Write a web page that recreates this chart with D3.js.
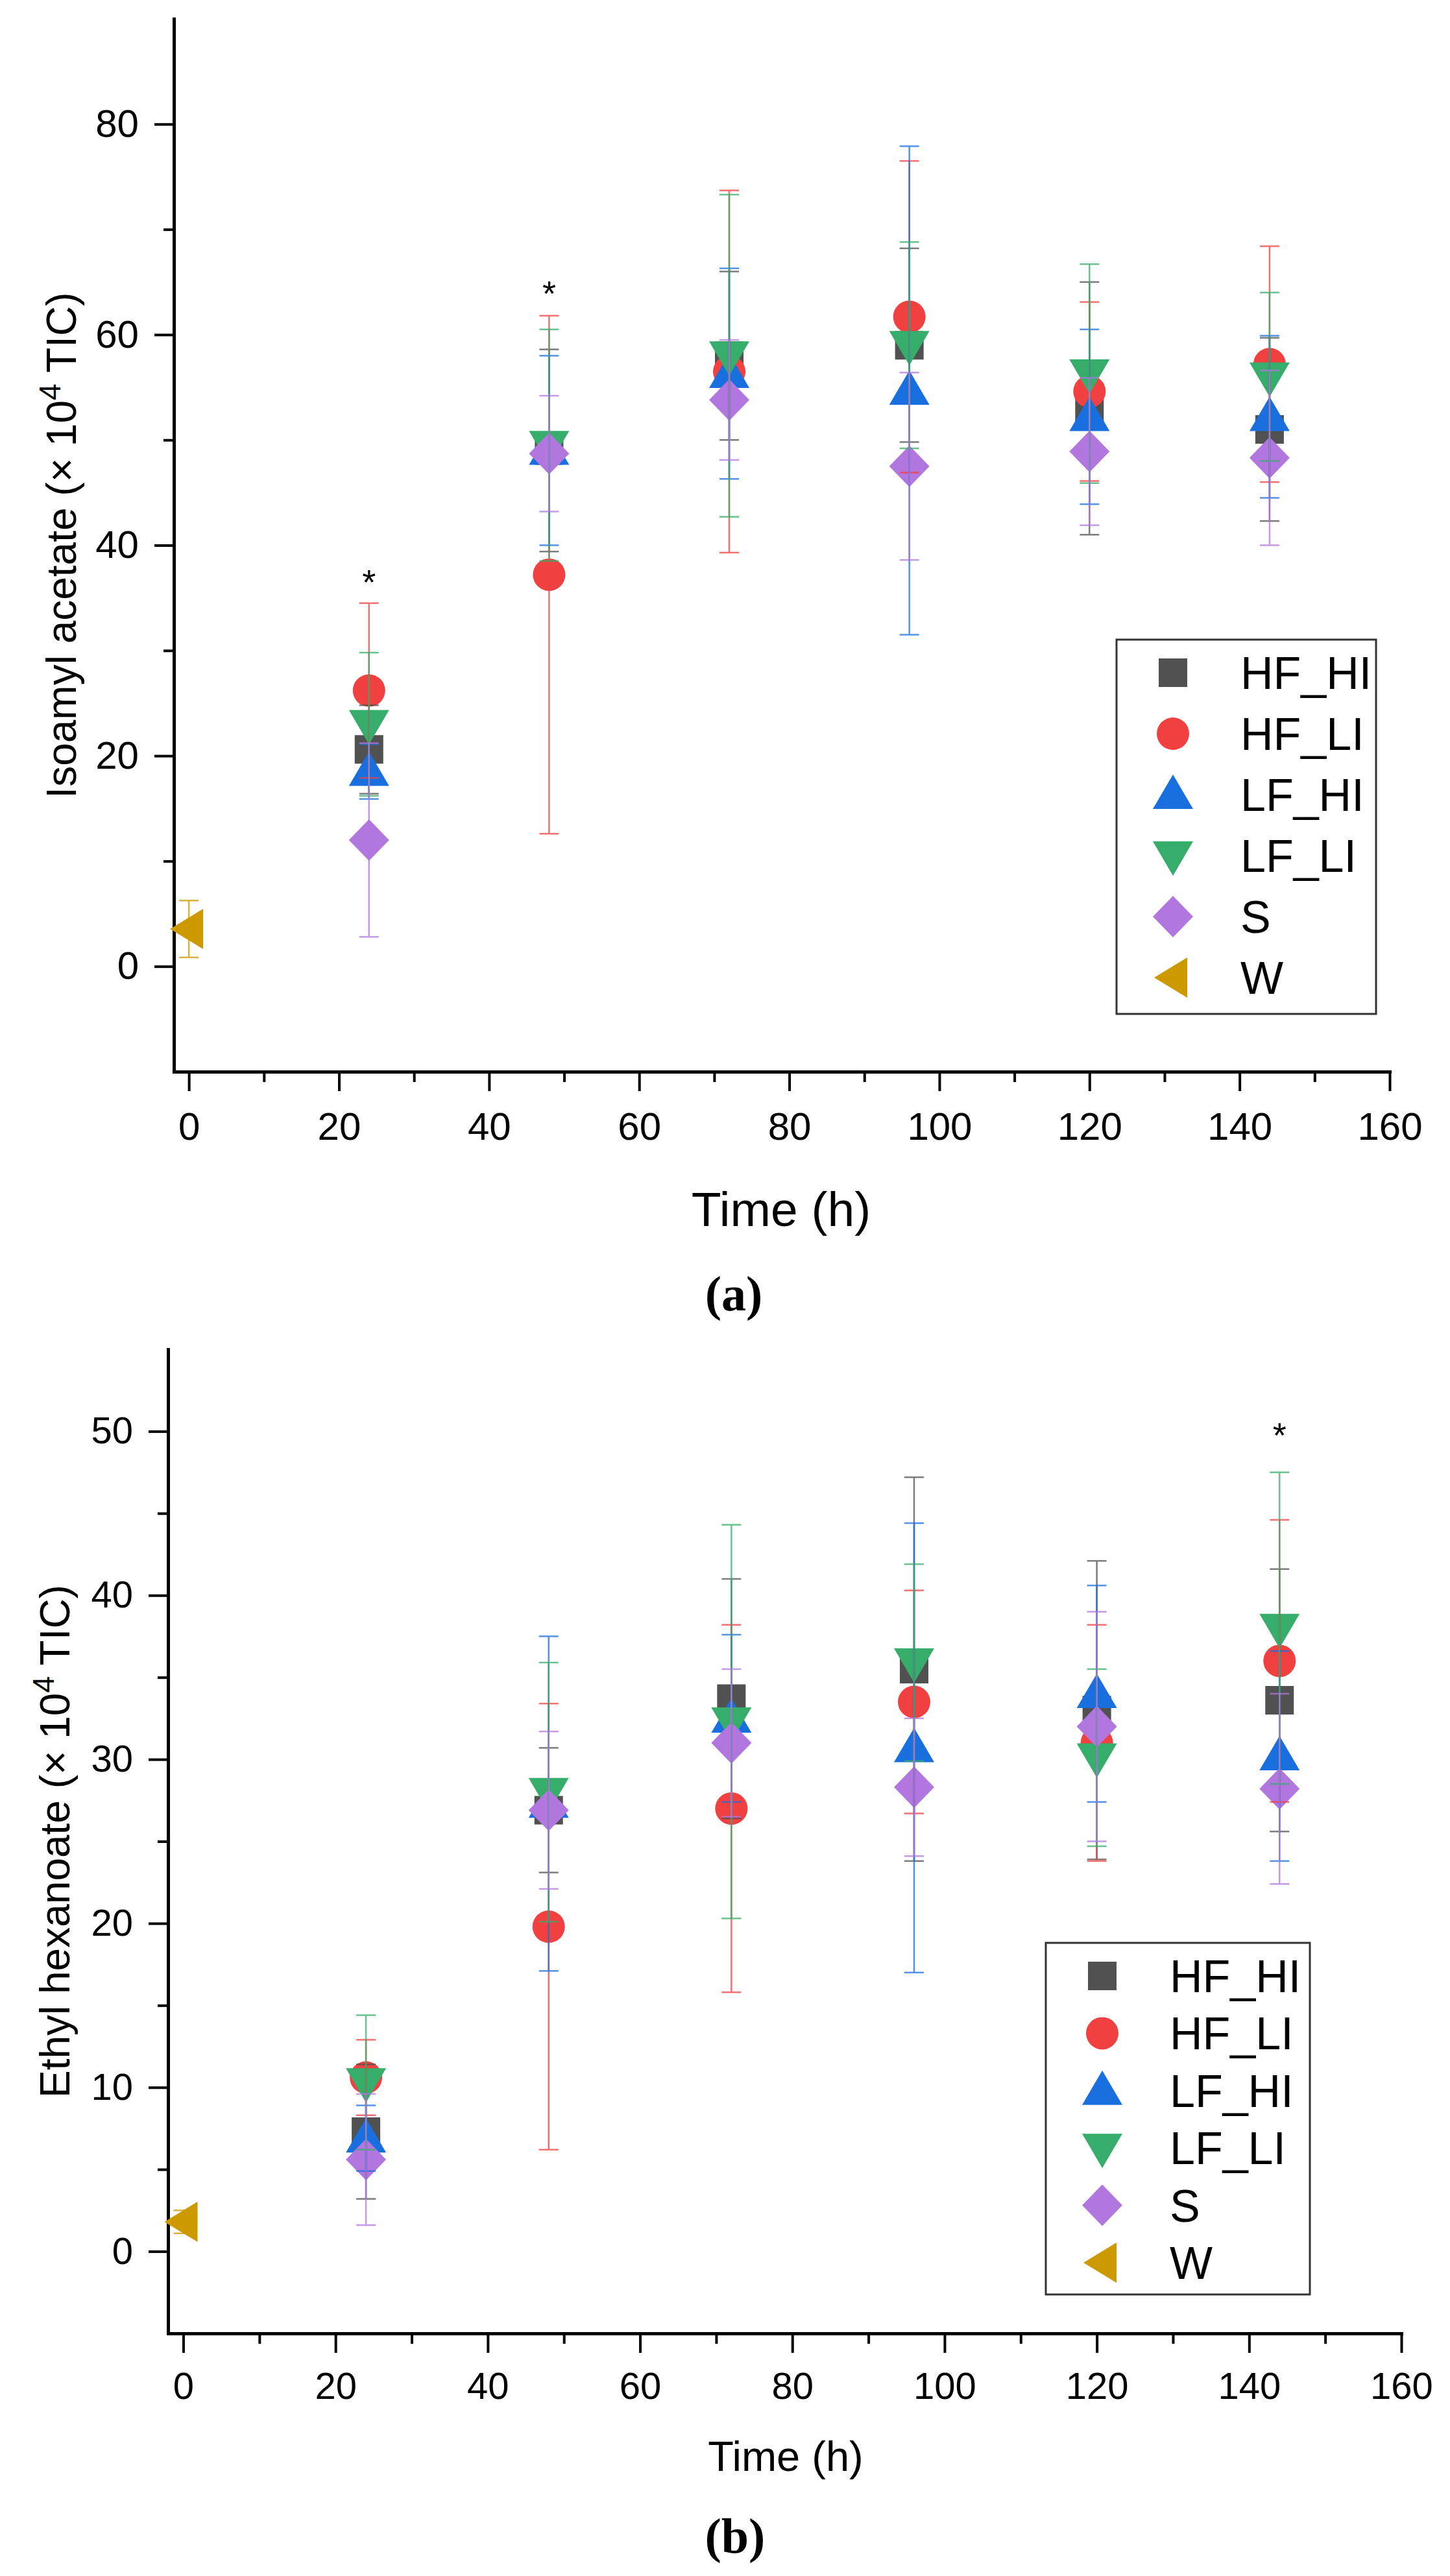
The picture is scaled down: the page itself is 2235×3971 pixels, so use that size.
<!DOCTYPE html>
<html>
  <head>
    <meta charset="utf-8">
    <title>Isoamyl acetate / Ethyl hexanoate</title>
    <script src="https://d3js.org/d3.v7.min.js"></script>
    <style>
      body { margin: 0; background: #fff; }
      text { font-family: 'Liberation Sans', Arial, sans-serif; }
      text.tag { font-family: 'Liberation Serif', 'DejaVu Serif', serif; font-weight: bold; }
    </style>
  </head>
  <body>
    <svg></svg>
    <script>
      // ---- data ----
      const seriesNames = ['HF_HI', 'HF_LI', 'LF_HI', 'LF_LI', 'S', 'W'];
      const seriesColors = ['#515151', '#F14040', '#1A6FDF', '#37AD6B', '#B177DE', '#CC9900'];
      const seriesShapes = ['square', 'circle', 'up', 'down', 'diamond', 'left'];

      const treatTimes = [24, 48, 72, 96, 120, 144];
      const waterTimes = [0];

      const xMajor = [0, 20, 40, 60, 80, 100, 120, 140, 160];
      const xMinor = [10, 30, 50, 70, 90, 110, 130, 150];

      // (a) Isoamyl acetate, mean and SD
      const isoHFHI = [20.6, 49.0, 58.0, 59.0, 53.0, 51.0];
      const isoHFHIsd = [4.2, 9.6, 8.0, 9.2, 12.0, 8.7];
      const isoHFLI = [26.2, 37.2, 56.5, 61.7, 54.6, 57.2];
      const isoHFLIsd = [8.3, 24.6, 17.2, 14.8, 8.5, 11.2];
      const isoLFHI = [18.5, 49.0, 56.3, 54.7, 52.2, 52.2];
      const isoLFHIsd = [2.6, 9.0, 10.0, 23.2, 8.3, 7.7];
      const isoLFLI = [23.0, 49.5, 58.0, 59.0, 56.3, 56.0];
      const isoLFLIsd = [6.8, 11.0, 15.3, 9.8, 10.4, 8.0];
      const isoS = [12.0, 48.7, 53.8, 47.5, 48.9, 48.3];
      const isoSsd = [9.2, 5.5, 5.7, 8.9, 7.0, 8.3];
      const isoW = [3.55];
      const isoWsd = [2.7];
      const isoSigTimes = [24, 48];
      const isoSigLevels = [37.2, 64.6];
      const isoYMajor = [0, 20, 40, 60, 80];
      const isoYMinor = [10, 30, 50, 70];

      // (b) Ethyl hexanoate, mean and SD
      const hexHFHI = [7.3, 26.9, 33.7, 35.5, 33.0, 33.6];
      const hexHFHIsd = [4.1, 3.8, 7.3, 11.7, 9.1, 8.0];
      const hexHFLI = [10.6, 19.8, 27.0, 33.5, 31.0, 36.0];
      const hexHFLIsd = [2.3, 13.6, 11.2, 6.8, 7.2, 8.6];
      const hexLFHI = [6.9, 27.3, 32.5, 30.7, 34.0, 30.2];
      const hexLFHIsd = [2.0, 10.2, 5.1, 13.7, 6.6, 6.4];
      const hexLFLI = [10.3, 28.0, 32.3, 35.9, 30.1, 38.0];
      const hexLFLIsd = [4.1, 7.9, 12.0, 6.0, 5.4, 9.5];
      const hexS = [5.6, 26.9, 31.0, 28.3, 32.0, 28.2];
      const hexSsd = [4.0, 4.8, 4.5, 4.2, 7.0, 5.8];
      const hexW = [1.8];
      const hexWsd = [0.7];
      const hexSigTimes = [144];
      const hexSigLevels = [50.2];
      const hexYMajor = [0, 10, 20, 30, 40, 50];
      const hexYMinor = [5, 15, 25, 35, 45];

      const svg = d3.select('svg')
        .attr('width', 2235)
        .attr('height', 3971);

      svg.append('rect')
        .attr('width', 2235)
        .attr('height', 3971)
        .attr('fill', '#fff');

      // marker shapes as custom d3 symbol types
      const symbolTypes = {
        square: { draw(c) { c.rect(-22, -22, 44, 44); } },
        circle: { draw(c) { c.moveTo(25, 0); c.arc(0, 0, 25, 0, 2 * Math.PI); } },
        up: { draw(c) { c.moveTo(0, -31); c.lineTo(31, 22); c.lineTo(-31, 22); c.closePath(); } },
        down: { draw(c) { c.moveTo(0, 31); c.lineTo(31, -22); c.lineTo(-31, -22); c.closePath(); } },
        diamond: { draw(c) { c.moveTo(0, -32); c.lineTo(31, 0); c.lineTo(0, 32); c.lineTo(-31, 0); c.closePath(); } },
        left: { draw(c) { c.moveTo(-29, 0); c.lineTo(22, -31); c.lineTo(22, 31); c.closePath(); } }
      };
      const symbolPath = shape => d3.symbol(symbolTypes[shape], 1)();

      const drawPanel = p => {
        const x = d3.scaleLinear().domain([-2, 160]).range(p.xRange);
        const y = d3.scaleLinear().domain(p.yDomain).range(p.yRange);
        const g = svg.append('g');

        // build rows: one per series per time point
        const rows = [];
        p.means.forEach((vals, i) => {
          const times = i === 5 ? waterTimes : treatTimes;
          vals.forEach((v, j) => rows.push({ s: i, t: times[j], m: v, sd: p.sds[i][j] }));
        });

        // axes
        const xAxis = d3.axisBottom(x).tickValues(xMajor).tickSize(30).tickSizeOuter(0)
          .tickPadding(p.xPad).tickFormat(d3.format('d'));
        const xMinorAxis = d3.axisBottom(x).tickValues(xMinor).tickSize(16).tickSizeOuter(0).tickFormat('');
        const yAxis = d3.axisLeft(y).tickValues(p.yMajor).tickSize(30).tickSizeOuter(0)
          .tickPadding(24).tickFormat(d3.format('d'));
        const yMinorAxis = d3.axisLeft(y).tickValues(p.yMinor).tickSize(16).tickSizeOuter(0).tickFormat('');

        const xBase = p.yRange[0];
        const yBase = p.xRange[0];

        [xAxis, xMinorAxis].forEach(a => {
          g.append('g').attr('class', 'axis').attr('transform', `translate(0,${xBase})`).call(a);
        });
        [yAxis, yMinorAxis].forEach(a => {
          g.append('g').attr('class', 'axis').attr('transform', `translate(${yBase},0)`).call(a);
        });
        g.selectAll('.axis .domain').attr('stroke', '#000').attr('stroke-width', 5).attr('stroke-linecap', 'square');
        g.selectAll('.axis .tick line').attr('stroke', '#000').attr('stroke-width', 4);
        g.selectAll('.axis text')
          .attr('font-size', p.tickFont)
          .attr('fill', '#000');

        // axis titles
        g.append('text')
          .attr('x', p.xTitle[0]).attr('y', p.xTitle[1])
          .attr('text-anchor', 'middle')
          .attr('font-size', p.xTitleFont)
          .text('Time (h)');

        const yt = g.append('text')
          .attr('transform', `translate(${p.yTitle[0]},${(p.yRange[0] + p.yRange[1]) / 2}) rotate(-90)`)
          .attr('text-anchor', 'middle')
          .attr('font-size', 64);
        yt.append('tspan').text(p.yLabel + ' (× 10');
        yt.append('tspan').attr('font-size', 46).attr('dy', -24).text('4');
        yt.append('tspan').attr('dy', 24).text(' TIC)');

        // markers
        g.selectAll('path.marker').data(rows).enter().append('path')
          .attr('class', 'marker')
          .attr('d', d => symbolPath(seriesShapes[d.s]))
          .attr('transform', d => `translate(${x(d.t)},${y(d.m)})`)
          .attr('fill', d => seriesColors[d.s]);

        // error bars on top
        const eb = g.selectAll('g.err').data(rows).enter().append('g')
          .attr('class', 'err')
          .attr('stroke', d => seriesColors[d.s])
          .attr('stroke-width', 2.5)
          .attr('opacity', 0.75);
        eb.append('line')
          .attr('x1', d => x(d.t)).attr('x2', d => x(d.t))
          .attr('y1', d => y(d.m - d.sd)).attr('y2', d => y(d.m + d.sd));
        [-1, 1].forEach(k => {
          eb.append('line')
            .attr('x1', d => x(d.t) - 15).attr('x2', d => x(d.t) + 15)
            .attr('y1', d => y(d.m + k * d.sd)).attr('y2', d => y(d.m + k * d.sd));
        });

        // significance stars
        g.selectAll('text.sig').data(p.sigTimes).enter().append('text')
          .attr('class', 'sig')
          .attr('x', d => x(d))
          .attr('y', (d, i) => y(p.sigLevels[i]) + 30)
          .attr('text-anchor', 'middle')
          .attr('font-size', 54)
          .text('*');

        // legend
        const lg = g.append('g');
        lg.append('rect')
          .attr('x', p.legend.x).attr('y', p.legend.y)
          .attr('width', p.legend.w).attr('height', p.legend.h)
          .attr('fill', '#fff').attr('stroke', '#333').attr('stroke-width', 3);
        seriesNames.forEach((name, i) => {
          const cy = p.legend.rowY + i * p.legend.step;
          lg.append('path')
            .attr('d', symbolPath(seriesShapes[i]))
            .attr('transform', `translate(${p.legend.symX},${cy})`)
            .attr('fill', seriesColors[i]);
          lg.append('text')
            .attr('x', p.legend.textX).attr('y', cy + 25)
            .attr('font-size', 70)
            .text(name);
        });

        // panel tag
        svg.append('text')
          .attr('class', 'tag')
          .attr('x', p.tag[0]).attr('y', p.tag[1])
          .attr('text-anchor', 'middle')
          .attr('font-size', 76)
          .text(p.tagText);
      };

      drawPanel({
        xRange: [268, 2142],
        yDomain: [-10, 90],
        yRange: [1652, 29],
        yMajor: isoYMajor,
        yMinor: isoYMinor,
        tickFont: 60,
        xPad: 32,
        xTitle: [1204, 1890],
        xTitleFont: 75,
        yTitle: [117, 0],
        yLabel: 'Isoamyl acetate',
        means: [isoHFHI, isoHFLI, isoLFHI, isoLFLI, isoS, isoW],
        sds: [isoHFHIsd, isoHFLIsd, isoLFHIsd, isoLFLIsd, isoSsd, isoWsd],
        sigTimes: isoSigTimes,
        sigLevels: isoSigLevels,
        legend: { x: 1721, y: 986, w: 400, h: 577, rowY: 1037, step: 94, symX: 1808, textX: 1912 },
        tag: [1131, 2020],
        tagText: '(a)'
      });

      drawPanel({
        xRange: [259, 2160],
        yDomain: [-5, 55],
        yRange: [3597, 2080],
        yMajor: hexYMajor,
        yMinor: hexYMinor,
        tickFont: 58,
        xPad: 30,
        xTitle: [1211, 3809],
        xTitleFont: 65,
        yTitle: [107, 0],
        yLabel: 'Ethyl hexanoate',
        means: [hexHFHI, hexHFLI, hexLFHI, hexLFLI, hexS, hexW],
        sds: [hexHFHIsd, hexHFLIsd, hexLFHIsd, hexLFLIsd, hexSsd, hexWsd],
        sigTimes: hexSigTimes,
        sigLevels: hexSigLevels,
        legend: { x: 1612, y: 2995, w: 407, h: 542, rowY: 3046, step: 88.4, symX: 1699, textX: 1803 },
        tag: [1133, 3935],
        tagText: '(b)'
      });
    </script>
  </body>
</html>
